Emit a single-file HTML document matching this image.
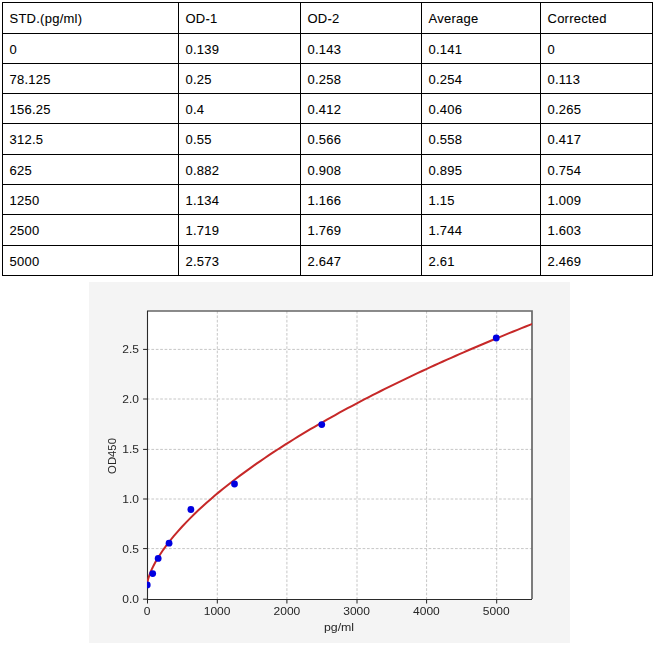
<!DOCTYPE html>
<html><head><meta charset="utf-8"><style>
html,body{margin:0;padding:0;background:#fff;width:656px;height:647px;overflow:hidden;position:relative}
.l{position:absolute;background:#000}
.t{position:absolute;font-family:"Liberation Sans",sans-serif;font-size:13px;line-height:13px;color:#000;white-space:nowrap;letter-spacing:0.25px;-webkit-text-stroke:0.08px #000}
svg{position:absolute;left:0;top:0;will-change:transform}
svg text{font-family:"Liberation Sans",sans-serif}
</style></head><body>

<div class="l" style="left:2px;top:2px;width:1px;height:274px"></div>
<div class="l" style="left:178px;top:2px;width:1px;height:274px"></div>
<div class="l" style="left:300px;top:2px;width:1px;height:274px"></div>
<div class="l" style="left:421px;top:2px;width:1px;height:274px"></div>
<div class="l" style="left:540px;top:2px;width:1px;height:274px"></div>
<div class="l" style="left:652px;top:2px;width:1px;height:274px"></div>
<div class="l" style="left:2px;top:2px;width:651px;height:1px"></div>
<div class="l" style="left:2px;top:33px;width:651px;height:1px"></div>
<div class="l" style="left:2px;top:63px;width:651px;height:1px"></div>
<div class="l" style="left:2px;top:93px;width:651px;height:1px"></div>
<div class="l" style="left:2px;top:123px;width:651px;height:1px"></div>
<div class="l" style="left:2px;top:154px;width:651px;height:1px"></div>
<div class="l" style="left:2px;top:184px;width:651px;height:1px"></div>
<div class="l" style="left:2px;top:214px;width:651px;height:1px"></div>
<div class="l" style="left:2px;top:245px;width:651px;height:1px"></div>
<div class="l" style="left:2px;top:275px;width:651px;height:1px"></div>
<div class="t" style="left:9.5px;top:12px">STD.(pg/ml)</div>
<div class="t" style="left:185.5px;top:12px">OD-1</div>
<div class="t" style="left:307.5px;top:12px">OD-2</div>
<div class="t" style="left:428.5px;top:12px">Average</div>
<div class="t" style="left:547.5px;top:12px">Corrected</div>
<div class="t" style="left:9.5px;top:43px">0</div>
<div class="t" style="left:185.5px;top:43px">0.139</div>
<div class="t" style="left:307.5px;top:43px">0.143</div>
<div class="t" style="left:428.5px;top:43px">0.141</div>
<div class="t" style="left:547.5px;top:43px">0</div>
<div class="t" style="left:9.5px;top:73px">78.125</div>
<div class="t" style="left:185.5px;top:73px">0.25</div>
<div class="t" style="left:307.5px;top:73px">0.258</div>
<div class="t" style="left:428.5px;top:73px">0.254</div>
<div class="t" style="left:547.5px;top:73px">0.113</div>
<div class="t" style="left:9.5px;top:103px">156.25</div>
<div class="t" style="left:185.5px;top:103px">0.4</div>
<div class="t" style="left:307.5px;top:103px">0.412</div>
<div class="t" style="left:428.5px;top:103px">0.406</div>
<div class="t" style="left:547.5px;top:103px">0.265</div>
<div class="t" style="left:9.5px;top:133px">312.5</div>
<div class="t" style="left:185.5px;top:133px">0.55</div>
<div class="t" style="left:307.5px;top:133px">0.566</div>
<div class="t" style="left:428.5px;top:133px">0.558</div>
<div class="t" style="left:547.5px;top:133px">0.417</div>
<div class="t" style="left:9.5px;top:164px">625</div>
<div class="t" style="left:185.5px;top:164px">0.882</div>
<div class="t" style="left:307.5px;top:164px">0.908</div>
<div class="t" style="left:428.5px;top:164px">0.895</div>
<div class="t" style="left:547.5px;top:164px">0.754</div>
<div class="t" style="left:9.5px;top:194px">1250</div>
<div class="t" style="left:185.5px;top:194px">1.134</div>
<div class="t" style="left:307.5px;top:194px">1.166</div>
<div class="t" style="left:428.5px;top:194px">1.15</div>
<div class="t" style="left:547.5px;top:194px">1.009</div>
<div class="t" style="left:9.5px;top:224px">2500</div>
<div class="t" style="left:185.5px;top:224px">1.719</div>
<div class="t" style="left:307.5px;top:224px">1.769</div>
<div class="t" style="left:428.5px;top:224px">1.744</div>
<div class="t" style="left:547.5px;top:224px">1.603</div>
<div class="t" style="left:9.5px;top:255px">5000</div>
<div class="t" style="left:185.5px;top:255px">2.573</div>
<div class="t" style="left:307.5px;top:255px">2.647</div>
<div class="t" style="left:428.5px;top:255px">2.61</div>
<div class="t" style="left:547.5px;top:255px">2.469</div>
<svg width="656" height="647" viewBox="0 0 656 647">
<defs><clipPath id="cp"><rect x="147" y="311" width="385" height="289"/></clipPath></defs>
<rect x="89" y="282" width="481" height="361" fill="#f4f4f4"/>
<rect x="147" y="311" width="385" height="288" fill="#fff"/>
<g stroke="#c6c6c6" stroke-width="1" stroke-dasharray="2.7,1.7"><line x1="217.3" y1="311" x2="217.3" y2="599"/><line x1="286.9" y1="311" x2="286.9" y2="599"/><line x1="357.0" y1="311" x2="357.0" y2="599"/><line x1="426.6" y1="311" x2="426.6" y2="599"/><line x1="496.7" y1="311" x2="496.7" y2="599"/><line x1="147" y1="548.6" x2="532" y2="548.6"/><line x1="147" y1="499.0" x2="532" y2="499.0"/><line x1="147" y1="449.4" x2="532" y2="449.4"/><line x1="147" y1="399.0" x2="532" y2="399.0"/><line x1="147" y1="349.4" x2="532" y2="349.4"/></g>
<path d="M147,311 H532 V599" fill="none" stroke="#666" stroke-width="1.7"/>
<path d="M147.5,311 V599.5 H532" fill="none" stroke="#2a2a2a" stroke-width="1.1"/>
<g stroke="#222" stroke-width="1"><line x1="147.5" y1="599.5" x2="147.5" y2="603.5"/><line x1="217.3" y1="599.5" x2="217.3" y2="603.5"/><line x1="286.9" y1="599.5" x2="286.9" y2="603.5"/><line x1="357.0" y1="599.5" x2="357.0" y2="603.5"/><line x1="426.6" y1="599.5" x2="426.6" y2="603.5"/><line x1="496.7" y1="599.5" x2="496.7" y2="603.5"/><line x1="143.1" y1="599.2" x2="147.5" y2="599.2"/><line x1="143.1" y1="548.6" x2="147.5" y2="548.6"/><line x1="143.1" y1="499.0" x2="147.5" y2="499.0"/><line x1="143.1" y1="449.4" x2="147.5" y2="449.4"/><line x1="143.1" y1="399.0" x2="147.5" y2="399.0"/><line x1="143.1" y1="349.4" x2="147.5" y2="349.4"/></g>
<g font-size="10.3" fill="#262626"><text transform="translate(147.2,615) scale(1.17,1)" text-anchor="middle">0</text><text transform="translate(217.1,615) scale(1.17,1)" text-anchor="middle">1000</text><text transform="translate(286.9,615) scale(1.17,1)" text-anchor="middle">2000</text><text transform="translate(356.6,615) scale(1.17,1)" text-anchor="middle">3000</text><text transform="translate(426.4,615) scale(1.17,1)" text-anchor="middle">4000</text><text transform="translate(496.2,615) scale(1.17,1)" text-anchor="middle">5000</text><text transform="translate(139,602.5) scale(1.17,1)" text-anchor="end">0.0</text><text transform="translate(139,552.5) scale(1.17,1)" text-anchor="end">0.5</text><text transform="translate(139,502.5) scale(1.17,1)" text-anchor="end">1.0</text><text transform="translate(139,452.5) scale(1.17,1)" text-anchor="end">1.5</text><text transform="translate(139,402.5) scale(1.17,1)" text-anchor="end">2.0</text><text transform="translate(139,352.5) scale(1.17,1)" text-anchor="end">2.5</text></g>
<text transform="translate(339,631) scale(1.2,1)" text-anchor="middle" font-size="10.3" fill="#262626">pg/ml</text>
<text transform="translate(116,456) rotate(-90) scale(1.1,1)" text-anchor="middle" font-size="10.3" fill="#262626">OD450</text>
<polyline clip-path="url(#cp)" points="147.25,584.05 147.39,582.65 147.53,581.81 147.67,581.10 147.81,580.47 147.95,579.88 148.09,579.34 148.23,578.82 148.37,578.33 148.51,577.85 148.65,577.39 149.00,576.31 149.66,574.43 150.32,572.72 150.98,571.13 151.64,569.63 152.30,568.20 152.97,566.83 153.63,565.51 154.29,564.24 154.95,563.01 155.61,561.82 156.28,560.65 156.94,559.52 157.60,558.41 158.26,557.32 158.92,556.26 159.59,555.22 160.25,554.19 160.91,553.19 161.57,552.20 162.23,551.22 162.89,550.26 163.56,549.32 164.22,548.38 164.88,547.47 165.54,546.56 166.20,545.66 166.87,544.78 167.53,543.90 168.19,543.04 169.59,541.24 173.73,536.14 177.87,531.32 182.01,526.72 186.15,522.32 190.29,518.10 194.43,514.01 198.57,510.06 202.71,506.23 206.85,502.50 211.00,498.88 215.14,495.34 219.28,491.88 223.42,488.50 227.56,485.19 231.70,481.95 235.84,478.77 239.98,475.65 244.12,472.58 248.26,469.57 252.40,466.60 256.55,463.69 260.69,460.82 264.83,457.99 268.97,455.20 273.11,452.45 277.25,449.74 281.39,447.06 285.53,444.42 289.67,441.81 293.81,439.24 297.96,436.69 302.10,434.18 306.24,431.69 310.38,429.23 314.52,426.80 318.66,424.40 322.80,422.02 326.94,419.66 331.08,417.33 335.22,415.02 339.36,412.74 343.51,410.47 347.65,408.23 351.79,406.01 355.93,403.81 360.07,401.62 364.21,399.46 368.35,397.32 372.49,395.19 376.63,393.08 380.77,390.99 384.92,388.92 389.06,386.86 393.20,384.82 397.34,382.80 401.48,380.79 405.62,378.80 409.76,376.82 413.90,374.85 418.04,372.90 422.18,370.97 426.32,369.05 430.47,367.14 434.61,365.25 438.75,363.36 442.89,361.50 447.03,359.64 451.17,357.80 455.31,355.97 459.45,354.15 463.59,352.34 467.73,350.54 471.87,348.76 476.02,346.98 480.16,345.22 484.30,343.47 488.44,341.73 492.58,340.00 496.72,338.28 500.86,336.57 505.00,334.87 509.14,333.18 513.28,331.50 517.43,329.83 521.57,328.17 525.71,326.52 529.85,324.87 533.99,323.24 538.13,321.61" fill="none" stroke="#c62828" stroke-width="2"/>
<g clip-path="url(#cp)" fill="#0000e0"><circle cx="147.25" cy="584.90" r="3.4"/><circle cx="152.70" cy="573.60" r="3.4"/><circle cx="158.16" cy="558.40" r="3.4"/><circle cx="169.06" cy="543.20" r="3.4"/><circle cx="190.88" cy="509.50" r="3.4"/><circle cx="234.50" cy="484.00" r="3.4"/><circle cx="321.75" cy="424.60" r="3.4"/><circle cx="496.25" cy="338.00" r="3.4"/></g>
</svg>

</body></html>
